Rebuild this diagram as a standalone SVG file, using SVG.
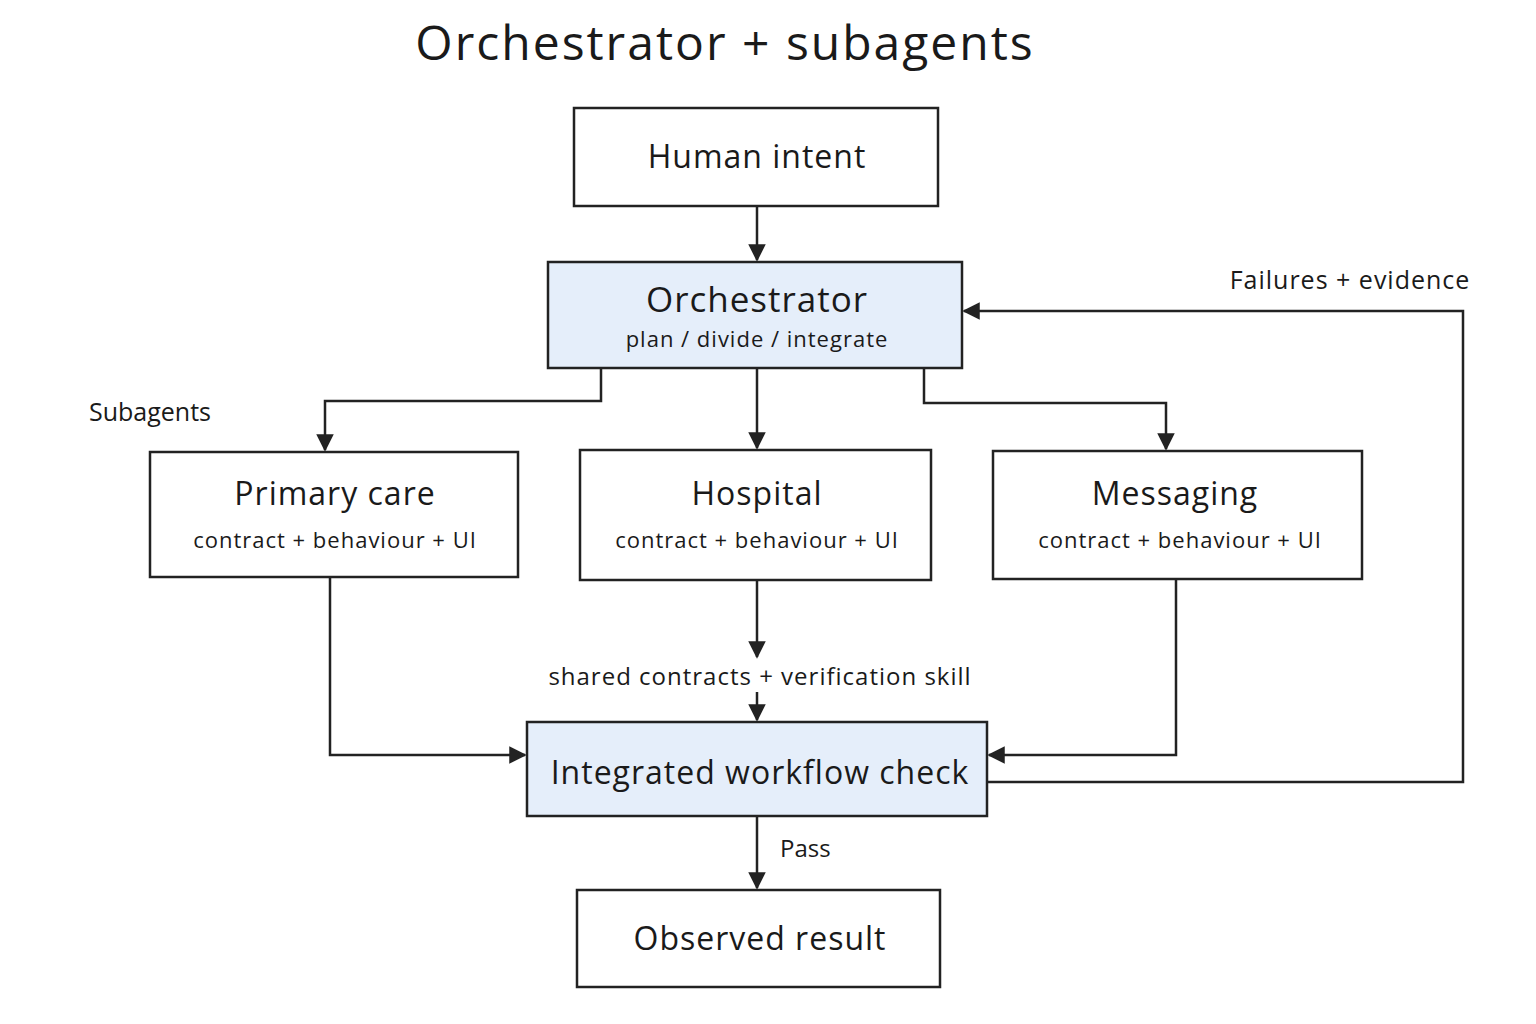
<svg xmlns="http://www.w3.org/2000/svg" width="1536" height="1024" viewBox="0 0 1536 1024">
<style>
text{font-family:"Open Sans","DejaVu Sans",sans-serif;fill:#1a1a1a;text-anchor:middle}
.box{fill:#fff;stroke:#222;stroke-width:2.5}
.hl{fill:#e5eefa;stroke:#222;stroke-width:2.5}
.t{font-size:32px;letter-spacing:1px}
.s{font-size:22px;letter-spacing:1px}
.c{fill:none;stroke:#222;stroke-width:2.5}
</style>
<defs><marker id="a" viewBox="0 0 10 10" refX="9" refY="5" markerWidth="7" markerHeight="7" orient="auto"><path d="M0,0 L10,5 L0,10 z" fill="#222"/></marker></defs>
<rect width="1536" height="1024" fill="#fff"/>
<text x="725" y="60" font-size="48" letter-spacing="2">Orchestrator + subagents</text>
<g id="connectors" class="c">
<path class="c" d="M757,206 V260" marker-end="url(#a)"/>
<path class="c" d="M601,368 V401 H325 V450" marker-end="url(#a)"/>
<path class="c" d="M757,368 V448" marker-end="url(#a)"/>
<path class="c" d="M924,368 V403 H1166 V449" marker-end="url(#a)"/>
<path class="c" d="M330,577 V755 H525" marker-end="url(#a)"/>
<path class="c" d="M757,580 V657" marker-end="url(#a)"/>
<path class="c" d="M757,692 V720" marker-end="url(#a)"/>
<path class="c" d="M1176,579 V755 H989" marker-end="url(#a)"/>
<path class="c" d="M987,782 H1463 V311 H964" marker-end="url(#a)"/>
<path class="c" d="M757,816 V888" marker-end="url(#a)"/>
</g>
<g id="labels">
<text x="150" y="421" font-size="25">Subagents</text>
<text x="1350" y="289" font-size="25" letter-spacing="1">Failures + evidence</text>
<text x="760" y="685" font-size="24" letter-spacing="1">shared contracts + verification skill</text>
<text x="780" y="857" font-size="24" style="text-anchor:start">Pass</text>
</g>
<g id="human"><rect class="box" x="574" y="108" width="364" height="98"/><text class="t" x="757" y="168">Human intent</text></g>
<g id="orchestrator"><rect class="hl" x="548" y="262" width="414" height="106"/><text x="757" y="312" font-size="35" letter-spacing="1">Orchestrator</text><text class="s" x="757" y="347">plan / divide / integrate</text></g>
<g id="primary"><rect class="box" x="150" y="452" width="368" height="125"/><text class="t" x="335" y="505">Primary care</text><text class="s" x="335" y="548">contract + behaviour + UI</text></g>
<g id="hospital"><rect class="box" x="580" y="450" width="351" height="130"/><text class="t" x="757" y="505">Hospital</text><text class="s" x="757" y="548">contract + behaviour + UI</text></g>
<g id="messaging"><rect class="box" x="993" y="451" width="369" height="128"/><text class="t" x="1175" y="505">Messaging</text><text class="s" x="1180" y="548">contract + behaviour + UI</text></g>
<g id="integrated"><rect class="hl" x="527" y="722" width="460" height="94"/><text class="t" x="760" y="784">Integrated workflow check</text></g>
<g id="observed"><rect class="box" x="577" y="890" width="363" height="97"/><text class="t" x="760" y="950">Observed result</text></g>
</svg>
